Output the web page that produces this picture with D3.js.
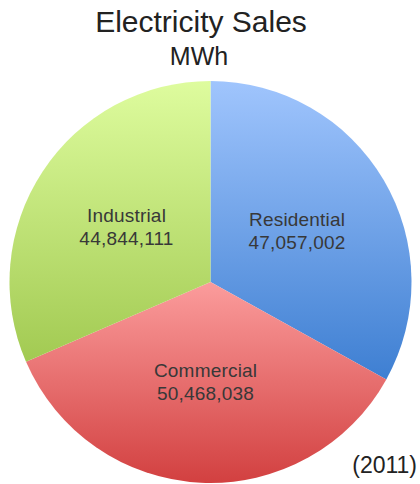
<!DOCTYPE html>
<html><head><meta charset="utf-8">
<script src="https://cdnjs.cloudflare.com/ajax/libs/d3/7.8.5/d3.min.js"></script>
<style>html,body{margin:0;padding:0;background:#fff;}svg{display:block;}</style>
</head><body>
<script>
const categories = ["Residential", "Commercial", "Industrial"];
const values = [47057002, 50468038, 44844111];
const topColors = ["#a0c5fd", "#fb9c9c", "#defc9e"];
const bottomColors = ["#3e7fd2", "#d24040", "#a2ca52"];
const title = "Electricity Sales";
const subtitle = "MWh";
const yearLabel = "(2011)";

const W = 420, H = 484;
const cx = 210.5, cy = 282, R = 201;
const font = "'Liberation Sans', Arial, sans-serif";

const svg = d3.select("body").append("svg").attr("width", W).attr("height", H);
const defs = svg.append("defs");
categories.forEach((c, i) => {
  const g = defs.append("linearGradient").attr("id", "g" + i)
    .attr("x1", 0).attr("y1", 0).attr("x2", 0).attr("y2", 1);
  g.append("stop").attr("offset", "0%").attr("stop-color", topColors[i]);
  g.append("stop").attr("offset", "100%").attr("stop-color", bottomColors[i]);
});

const data = categories.map((c, i) => ({name: c, value: values[i], i}));
const pie = d3.pie().sort(null).value(d => d.value);
const arc = d3.arc().innerRadius(0).outerRadius(R);
const arcs = pie(data);

const g = svg.append("g").attr("transform", `translate(${cx},${cy})`);
g.selectAll("path").data(arcs).join("path")
  .attr("d", arc)
  .attr("fill", d => `url(#g${d.data.i})`);

const fmt = d3.format(",");
const labelArc = d3.arc().innerRadius(R * 0.5).outerRadius(R * 0.5);
const lbl = g.selectAll("text.lbl").data(arcs).join("text")
  .attr("class", "lbl")
  .attr("text-anchor", "middle")
  .attr("font-family", font)
  .attr("font-size", "19px")
  .attr("letter-spacing", "0.2px")
  .attr("fill", "#383838")
  .attr("transform", d => {
    const [x, y] = labelArc.centroid(d);
    return `translate(${x},${y})`;
  });
lbl.append("tspan").attr("x", 0).attr("y", -5).text(d => d.data.name);
lbl.append("tspan").attr("x", 0).attr("y", 18).text(d => fmt(d.data.value));

svg.append("text").attr("x", 201).attr("y", 32).attr("text-anchor", "middle")
  .attr("font-family", font).attr("font-size", "30px").attr("fill", "#222").text(title);
svg.append("text").attr("x", 199).attr("y", 65).attr("text-anchor", "middle")
  .attr("font-family", font).attr("font-size", "25px").attr("fill", "#222").text(subtitle);
svg.append("text").attr("x", 417).attr("y", 473).attr("text-anchor", "end")
  .attr("font-family", font).attr("font-size", "23px").attr("fill", "#222").text(yearLabel);
</script>
</body></html>
